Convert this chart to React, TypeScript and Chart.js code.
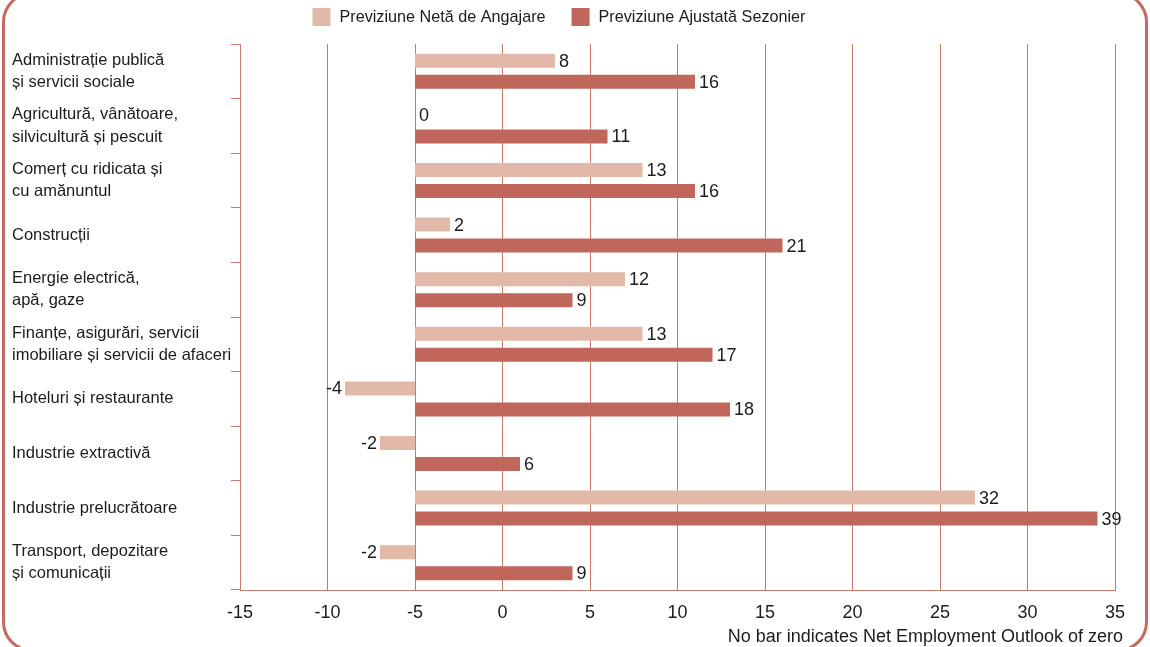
import { useEffect, useRef } from "react";
import { Chart, registerables } from "chart.js";

Chart.register(...registerables);

// ---------- data ----------
const categories: string[][] = [
  ["Administrație publică", "și servicii sociale"],
  ["Agricultură, vânătoare,", "silvicultură și pescuit"],
  ["Comerț cu ridicata și", "cu amănuntul"],
  ["Construcții"],
  ["Energie electrică,", "apă, gaze"],
  ["Finanțe, asigurări, servicii", "imobiliare și servicii de afaceri"],
  ["Hoteluri și restaurante"],
  ["Industrie extractivă"],
  ["Industrie prelucrătoare"],
  ["Transport, depozitare", "și comunicații"],
];
const netOutlook = [8, 0, 13, 2, 12, 13, -4, -2, 32, -2];
const adjustedOutlook = [16, 11, 16, 21, 9, 17, 18, 6, 39, 9];
const seriesLabels = ["Previziune Netă de Angajare", "Previziune Ajustată Sezonier"];
const seriesValues = [netOutlook, adjustedOutlook];
const BAR_ORIGIN = -5; // bars in the original start at -5 on the axis
const X_MIN = -15;
const X_MAX = 35;
const X_STEP = 5;
const FOOTNOTE = "No bar indicates Net Employment Outlook of zero";

// ---------- styles ----------
const FONT = '"Liberation Sans", Arial, Helvetica, sans-serif';
const LIGHT = "#e2b9a8";
const DARK = "#c1665b";
const LINE = "#c77a70";
const FRAME = "#c46a5f";
const TEXT = "#1c1c1c";
const seriesColors = [LIGHT, DARK];

const overlayPlugin = {
  id: "overlay",
  afterDatasetsDraw(chart: any) {
    const ctx = chart.ctx as CanvasRenderingContext2D;
    ctx.save();
    ctx.fillStyle = TEXT;
    ctx.textBaseline = "middle";
    // value labels
    ctx.font = `18px ${FONT}`;
    chart.data.datasets.forEach((_ds: any, di: number) => {
      const meta = chart.getDatasetMeta(di);
      const values = seriesValues[di];
      meta.data.forEach((bar: any, i: number) => {
        const v = values[i];
        const { x, base, y } = bar.getProps(["x", "base", "y"], true);
        if (v < 0) {
          ctx.textAlign = "right";
          ctx.fillText(String(v), Math.min(x, base) - 3, y + 1);
        } else {
          ctx.textAlign = "left";
          ctx.fillText(String(v), Math.max(x, base) + 4, y + 1);
        }
      });
    });
    // legend
    ctx.font = `16.2px ${FONT}`;
    const box = 18;
    const gapText = 9;
    const gapItem = 26;
    const items = chart.data.datasets.map((ds: any) => ({
      text: ds.label as string,
      color: ds.backgroundColor as string,
    }));
    const widths = items.map(
      (it: any) => box + gapText + ctx.measureText(it.text).width
    );
    const total =
      widths.reduce((a: number, b: number) => a + b, 0) +
      gapItem * (items.length - 1);
    let lx = 559 - total / 2;
    const ly = 17;
    ctx.textAlign = "left";
    items.forEach((it: any, i: number) => {
      ctx.fillStyle = it.color;
      ctx.fillRect(lx, ly - box / 2, box, box);
      ctx.fillStyle = TEXT;
      ctx.fillText(it.text, lx + box + gapText, ly + 1);
      lx += widths[i] + gapItem;
    });
    // footnote
    ctx.font = `18px ${FONT}`;
    ctx.textAlign = "right";
    ctx.fillText(FOOTNOTE, 1123, 637);
    ctx.restore();
  },
};

export default function App() {
  const canvasRef = useRef<HTMLCanvasElement | null>(null);

  useEffect(() => {
    if (!canvasRef.current) return;
    const chart = new Chart(canvasRef.current, {
      type: "bar",
      data: {
        labels: categories,
        datasets: seriesLabels.map((label, di) => ({
          label,
          data: seriesValues[di].map((v) => [BAR_ORIGIN, BAR_ORIGIN + v]),
          backgroundColor: seriesColors[di],
          borderWidth: 0,
          categoryPercentage: 0.77,
          barPercentage: 0.667,
        })),
      } as any,
      options: {
        indexAxis: "y",
        animation: false,
        responsive: false,
        maintainAspectRatio: false,
        layout: { padding: { left: 12, right: 35, top: 44, bottom: 0 } },
        plugins: {
          legend: { display: false },
          tooltip: { enabled: false },
        },
        scales: {
          x: {
            type: "linear",
            min: X_MIN,
            max: X_MAX,
            afterFit: (scale: any) => {
              scale.height = 57;
            },
            ticks: {
              stepSize: X_STEP,
              color: TEXT,
              font: { family: FONT, size: 18 },
              padding: 12,
            },
            grid: {
              color: LINE,
              lineWidth: 1,
              drawTicks: false,
            },
            border: { display: true, color: LINE, width: 1 },
          },
          y: {
            type: "category",
            afterFit: (scale: any) => {
              scale.width = 228;
            },
            ticks: {
              color: TEXT,
              crossAlign: "far",
              font: { family: FONT, size: 16.5, lineHeight: 1.34 },
              autoSkip: false,
            },
            grid: {
              offset: true,
              drawOnChartArea: false,
              drawTicks: true,
              tickLength: 9,
              color: LINE,
              lineWidth: 1,
            },
            border: { display: true, color: LINE, width: 1 },
          },
        },
      } as any,
      plugins: [overlayPlugin],
    });
    return () => chart.destroy();
  }, []);

  return (
    <div
      style={{
        position: "fixed",
        left: 0,
        top: 0,
        width: 1150,
        height: 647,
        background: "#ffffff",
        overflow: "hidden",
      }}
    >
      <canvas
        ref={canvasRef}
        width={1150}
        height={647}
        style={{ position: "absolute", left: 0, top: 0, width: 1150, height: 647 }}
      />
      <div
        style={{
          position: "absolute",
          left: 2,
          top: -8,
          width: 1146,
          height: 660,
          border: `3px solid ${FRAME}`,
          borderRadius: 30,
          boxSizing: "border-box",
          pointerEvents: "none",
        }}
      />
    </div>
  );
}
